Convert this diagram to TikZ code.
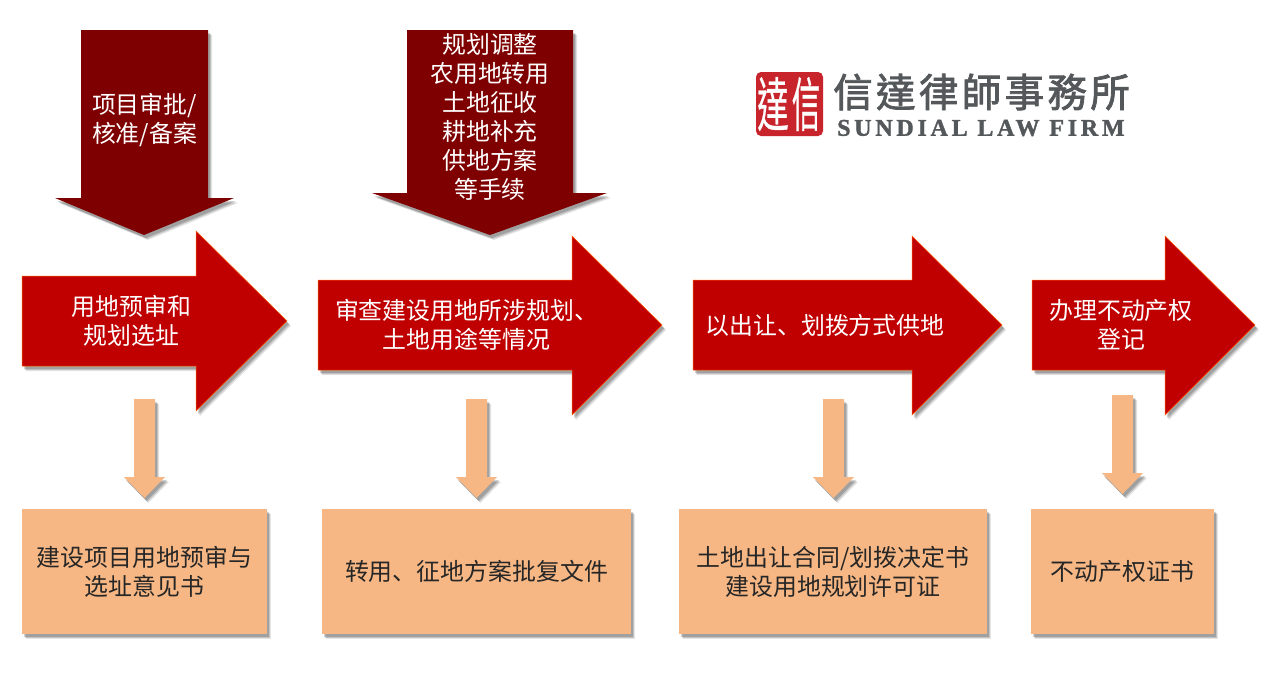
\documentclass[tikz,border=0pt]{standalone}
\usepackage{fontspec}
\setmainfont{Noto Sans CJK SC}
\newfontfamily\tcfont{Noto Sans CJK TC}
\newfontfamily\latinlogo[LetterSpace=15.6]{Liberation Serif}
\usetikzlibrary{shadows,calc}
\definecolor{redarrow}{HTML}{C00000}
\definecolor{darkarrow}{HTML}{7F0000}
\definecolor{peach}{HTML}{F6B784}
\definecolor{logogray}{HTML}{54585A}
\definecolor{sealred}{HTML}{C8242B}
\tikzset{
  softshadow/.style={
    general shadow={shadow xshift=4pt,shadow yshift=-5pt,fill=black,opacity=.10},
    general shadow={shadow xshift=3pt,shadow yshift=-4pt,fill=black,opacity=.14},
    general shadow={shadow xshift=2pt,shadow yshift=-3pt,fill=black,opacity=.18}},
  redshape/.style={fill=redarrow,draw=orange!70!red,line width=.5pt,softshadow},
  darkshape/.style={fill=darkarrow,draw=none,softshadow},
  peachshape/.style={fill=peach,draw=none,softshadow},
  wlabel/.style={text=white,align=center,font=\fontsize{23.9}{29}\selectfont,inner sep=0pt},
  blabel/.style={text=black!85,align=center,font=\fontsize{23.9}{29}\selectfont,inner sep=0pt},
  pagebg/.style={fill=white,draw=none},
}
\newcommand{\oarrow}[4]{% xcenter ytop yshoulder ytip
  \fill[peachshape] ({#1-10.5},#2) -- ({#1+10.5},#2) -- ({#1+10.5},#3) -- ({#1+20.5},#3) -- (#1,#4) -- ({#1-20.5},#3) -- ({#1-10.5},#3) -- cycle;}
\begin{document}
\begin{tikzpicture}[x=1pt,y=-1pt]
\useasboundingbox[pagebg] (0,0) rectangle (1269,673);
% dark arrows
\fill[darkshape] (81,30) -- (208,30) -- (208,198) -- (234,198) -- (144,235) -- (55,198) -- (81,198) -- cycle;
\node[wlabel] (d1) at (144.5,120) {项目审批/\\核准/备案};
\fill[darkshape] (407,30) -- (573,30) -- (573,193) -- (607,193) -- (490,235) -- (372,193) -- (407,193) -- cycle;
\node[wlabel] (d2) at (490,117) {规划调整\\农用地转用\\土地征收\\耕地补充\\供地方案\\等手续};
% red arrows
\filldraw[redshape] (22,276) -- (196,276) -- (196,231) -- (287,321) -- (196,411) -- (196,366) -- (22,366) -- cycle;
\node[wlabel] (r1) at (131.5,321) {用地预审和\\规划选址};
\filldraw[redshape] (318,280) -- (572,280) -- (572,236) -- (662,325) -- (572,415) -- (572,370) -- (318,370) -- cycle;
\node[wlabel] (r2) at (466.5,325) {审查建设用地所涉规划、\\土地用途等情况};
\filldraw[redshape] (693,280) -- (912,280) -- (912,236) -- (1002,325) -- (912,415) -- (912,370) -- (693,370) -- cycle;
\node[wlabel] (r3) at (825,325) {以出让、划拨方式供地};
\filldraw[redshape] (1032,280) -- (1165,280) -- (1165,236) -- (1255,325) -- (1165,415) -- (1165,370) -- (1032,370) -- cycle;
\node[wlabel] (r4) at (1121,325) {办理不动产权\\登记};
% peach arrows
\oarrow{144.5}{399}{477}{498}
\oarrow{476.5}{399}{477}{498}
\oarrow{833.5}{399}{477}{498}
\oarrow{1122.5}{395}{473}{494}
% result boxes
\node[peachshape,minimum width=245pt,minimum height=125pt,inner sep=0pt] (b1) at (144.5,571.5) {};
\node[blabel] at (b1) {建设项目用地预审与\\选址意见书};
\node[peachshape,minimum width=309pt,minimum height=125pt,inner sep=0pt] (b2) at (476.5,571.5) {};
\node[blabel] at (b2) {转用、征地方案批复文件};
\node[peachshape,minimum width=308pt,minimum height=125pt,inner sep=0pt] (b3) at (833,571.5) {};
\node[blabel] at (b3) {土地出让合同/划拨决定书\\建设用地规划许可证};
\node[peachshape,minimum width=183pt,minimum height=125pt,inner sep=0pt] (b4) at (1122.5,571.5) {};
\node[blabel] at (b4) {不动产权证书};
% logo
\fill[sealred,rounded corners=5pt] (756,72) rectangle (823,136);
\node[inner sep=0pt,text=white,font=\tcfont\fontsize{30}{30}\selectfont,xscale=1.05,yscale=1.95] (s1) at (773,104) {\addfontfeatures{FakeBold=.6}達};
\node[inner sep=0pt,text=white,font=\tcfont\fontsize{30}{30}\selectfont,xscale=.95,yscale=1.95] (s2) at (806,104) {\addfontfeatures{FakeBold=.6}信};
\node[inner sep=0pt,text=logogray,font={\tcfont\fontsize{39.5}{40}\selectfont},anchor=west] (l1) at (833,92) {\addfontfeatures{FakeBold=2,LetterSpace=8.5}信達律師事務所};
\node[inner sep=0pt,text=logogray,font={\latinlogo\bfseries\fontsize{24}{24}\selectfont},anchor=west] (l2) at (837,128) {\addfontfeatures{FakeBold=1.5}SUNDIAL LAW FIRM};
\end{tikzpicture}
\end{document}
